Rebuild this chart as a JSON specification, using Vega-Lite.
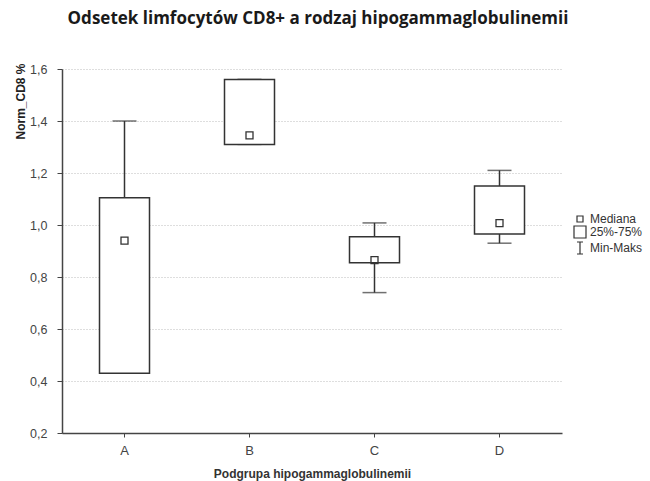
{
  "$schema": "https://vega.github.io/schema/vega-lite/v6.json",
  "width": 500,
  "height": 364,
  "autosize": {"type": "none"},
  "padding": {"left": 62, "top": 69, "right": 88, "bottom": 48},
  "background": "white",
  "title": {
    "text": "Odsetek limfocytów CD8+ a rodzaj hipogammaglobulinemii",
    "font": "Open Sans",
    "fontSize": 17,
    "fontWeight": "bold",
    "color": "#1a1a1a",
    "anchor": "middle",
    "dx": 6,
    "offset": 35
  },
  "data": {
    "values": [
      {"grupa": "A", "min": 0.43, "q1": 0.43, "mediana": 0.94, "q3": 1.105, "max": 1.40},
      {"grupa": "B", "min": 1.31, "q1": 1.31, "mediana": 1.345, "q3": 1.56, "max": 1.56},
      {"grupa": "C", "min": 0.74, "q1": 0.855, "mediana": 0.865, "q3": 0.955, "max": 1.008},
      {"grupa": "D", "min": 0.93, "q1": 0.965, "mediana": 1.007, "q3": 1.15, "max": 1.21}
    ]
  },
  "encoding": {
    "x": {
      "field": "grupa",
      "type": "nominal",
      "scale": {"domain": ["A", "B", "C", "D"], "paddingInner": 0, "paddingOuter": 0},
      "axis": {
        "title": "Podgrupa hipogammaglobulinemii",
        "titleFont": "Liberation Sans",
        "titleFontSize": 12,
        "titleFontWeight": "bold",
        "titleColor": "#333",
        "titlePadding": 11,
        "labelAngle": 0,
        "labelFont": "Liberation Sans",
        "labelFontSize": 13,
        "labelColor": "#444",
        "labelPadding": 7,
        "domainColor": "#444",
        "domainWidth": 1.5,
        "tickColor": "#444",
        "tickSize": 4,
        "grid": false
      }
    }
  },
  "layer": [
    {
      "mark": {"type": "rule", "color": "#333", "strokeWidth": 1.5},
      "encoding": {
        "y": {
          "field": "min",
          "type": "quantitative",
          "scale": {"domain": [0.2, 1.6], "nice": false},
          "axis": {
            "title": "Norm_CD8 %",
            "titleFont": "Liberation Sans",
            "titleFontSize": 12,
            "titleFontWeight": "bold",
            "titleColor": "#222",
            "titleAngle": -90,
            "titleX": -42,
            "titleY": 32,
            "titleAlign": "center",
            "titleBaseline": "middle",
            "values": [0.2, 0.4, 0.6, 0.8, 1.0, 1.2, 1.4, 1.6],
            "labelExpr": "replace(format(datum.value, '.1f'), '.', ',')",
            "labelFont": "Liberation Sans",
            "labelFontSize": 12.5,
            "labelColor": "#444",
            "labelPadding": 10,
            "domainColor": "#444",
            "domainWidth": 1.5,
            "tickColor": "#444",
            "tickSize": 5,
            "grid": true,
            "gridColor": "#bdbdbd",
            "gridDash": [1, 2],
            "gridWidth": 1
          }
        },
        "y2": {"field": "max"}
      }
    },
    {
      "mark": {"type": "tick", "color": "#333", "thickness": 1.5, "size": 24, "orient": "horizontal"},
      "encoding": {"y": {"field": "min", "type": "quantitative"}}
    },
    {
      "mark": {"type": "tick", "color": "#333", "thickness": 1.5, "size": 24, "orient": "horizontal"},
      "encoding": {"y": {"field": "max", "type": "quantitative"}}
    },
    {
      "mark": {"type": "bar", "width": 50, "fill": "white", "stroke": "#333", "strokeWidth": 1.5},
      "encoding": {
        "y": {"field": "q1", "type": "quantitative"},
        "y2": {"field": "q3"}
      }
    },
    {
      "mark": {"type": "point", "filled": false, "size": 196, "stroke": "#333", "strokeWidth": 1.3, "opacity": 1},
      "encoding": {
        "y": {"field": "mediana", "type": "quantitative"},
        "shape": {
          "datum": "Mediana",
          "scale": {
            "domain": ["Mediana", "25%-75%", "Min-Maks"],
            "range": [
              "M-0.5,-0.5H0.5V0.5H-0.5Z",
              "M-1,-1H1V1H-1Z",
              "M-0.5,-1H0.5M0,-1V1M-0.5,1H0.5"
            ]
          },
          "legend": {
            "title": null,
            "orient": "none",
            "legendX": 511,
            "legendY": 143,
            "padding": 0,
            "symbolSize": 144,
            "symbolStrokeColor": "#333",
            "symbolStrokeWidth": 1.2,
            "symbolFillColor": "transparent",
            "labelFont": "Liberation Sans",
            "labelFontSize": 12,
            "labelColor": "#333",
            "labelOffset": 3,
            "rowPadding": -3,
            "labelLimit": 200
          }
        }
      }
    }
  ],
  "config": {
    "view": {"stroke": null}
  }
}
